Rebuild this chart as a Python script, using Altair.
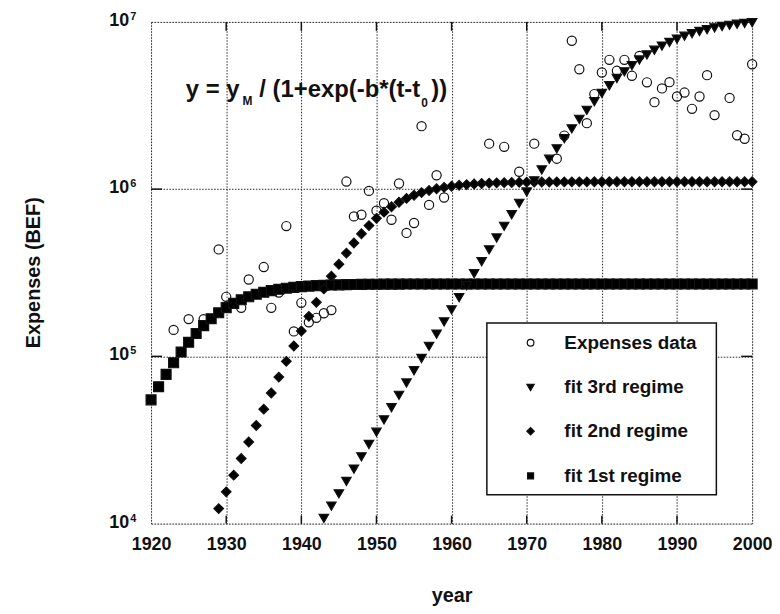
import altair as alt
import pandas as pd

W, H = 605, 505
FONT = "Liberation Sans"
INK = "#111111"

# ---------------- data ----------------
exp_year = [1923, 1925, 1927, 1929, 1930, 1932, 1933, 1935, 1936, 1937,
            1938, 1939, 1940, 1941, 1942, 1943, 1944, 1946, 1947, 1948,
            1949, 1950, 1951, 1952, 1953, 1954, 1955, 1956, 1957, 1958,
            1959, 1965, 1967, 1969, 1971, 1974, 1975, 1976, 1977, 1978,
            1979, 1980, 1981, 1982, 1983, 1984, 1985, 1986, 1987, 1988,
            1989, 1990, 1991, 1992, 1993, 1994, 1995, 1997, 1998, 1999,
            2000]
exp_value = [1.44e5, 1.67e5, 1.67e5, 4.36e5, 2.27e5, 1.95e5, 2.88e5, 3.42e5, 1.95e5, 2.41e5,
             6.01e5, 1.41e5, 2.09e5, 1.60e5, 1.70e5, 1.81e5, 1.89e5, 1.11e6, 6.87e5, 7.03e5,
             9.76e5, 7.43e5, 8.24e5, 6.56e5, 1.08e6, 5.47e5, 6.27e5, 2.38e6, 8.05e5, 1.21e6,
             8.91e5, 1.87e6, 1.79e6, 1.27e6, 1.87e6, 1.52e6, 2.09e6, 7.71e6, 5.21e6, 2.48e6,
             3.70e6, 4.98e6, 5.93e6, 5.10e6, 5.93e6, 4.76e6, 6.26e6, 4.35e6, 3.31e6, 4.00e6,
             4.36e6, 3.58e6, 3.78e6, 3.02e6, 3.58e6, 4.80e6, 2.77e6, 3.51e6, 2.10e6, 2.00e6,
             5.58e6]

fit1_year = list(range(1920, 2001))
fit1_value = [54970, 65830, 78050, 91550, 106100, 121400, 137100, 152700, 167900, 182200,
              195500, 207500, 218000, 227200, 235100, 241700, 247300, 251800, 255600, 258600,
              261100, 263100, 264700, 266000, 267000, 267800, 268500, 269000, 269400, 269700,
              270000, 270200, 270400, 270500, 270600, 270700, 270800, 270800, 270900, 270900,
              270900, 270900, 270900, 270900, 270900,
              271000, 271000, 271000, 271000, 271000, 271000, 271000, 271000, 271000, 271000,
              271000, 271000, 271000, 271000, 271000, 271000, 271000, 271000, 271000, 271000,
              271000, 271000, 271000, 271000, 271000, 271000, 271000, 271000, 271000, 271000,
              271000, 271000, 271000, 271000, 271000, 271000]

fit2_year = list(range(1929, 2001))
fit2_value = [12300, 15480, 19490, 24490, 30750, 38620, 48360, 60430, 75200, 93340,
              115400, 141900, 173500, 210300, 253100, 301600, 355600, 414300, 476300, 540500,
              605200, 668500, 728300, 784500, 835100, 880200, 919400, 953100, 981600, 1005400,
              1025000, 1041000, 1054200, 1064700, 1073300, 1080100, 1085600, 1090000, 1093500, 1096300,
              1098500, 1100300, 1101700, 1102800, 1103700, 1104300, 1104900, 1105300, 1105600, 1105900,
              1106100, 1106300,
              1106400, 1106500, 1106600, 1106600, 1106700, 1106700, 1106800, 1106800, 1106800, 1106900,
              1106900, 1106900, 1106900, 1107000, 1107000, 1107000, 1107000, 1107000, 1107000, 1107000]

fit3_year = list(range(1943, 2001))
fit3_value = [10730, 12720, 15070, 17860, 21160, 25070, 29700, 35190, 41680, 49370,
              58460, 69260, 81970, 97040, 114800, 135800, 160600, 189800, 224200, 264700,
              312300, 368200, 433500, 510000, 599000, 702300, 822200, 961000, 1120000, 1302000,
              1509000, 1742000, 2003000, 2293000, 2613000, 2960000, 3334000, 3733000, 4150000, 4585000,
              5027000, 5473000, 5916000, 6349000, 6767000, 7166000, 7540000, 7888000, 8207000, 8497000,
              8758000, 8991000, 9198000, 9380000, 9539000, 9677000, 9797000, 9901000]

series_names = ["Expenses data", "fit 3rd regime", "fit 2nd regime", "fit 1st regime"]
series_shapes = ["circle", "triangle-down", "diamond", "square"]
series_fills = ["transparent", "black", "black", "black"]
series_sizes = [85, 100, 80, 50]
legend_sizes = [45, 55, 55, 36]

x_ticks = [1920, 1930, 1940, 1950, 1960, 1970, 1980, 1990, 2000]
x_inner = [1930, 1940, 1950, 1960, 1970, 1980, 1990]
y_ticks = [1e4, 1e5, 1e6, 1e7]
y_exps = ["4", "5", "6", "7"]
y_inner = [1e5, 1e6]

# ---------------- tables ----------------
rows = []
for name, ys, vs in [("Expenses data", exp_year, exp_value),
                     ("fit 1st regime", fit1_year, fit1_value),
                     ("fit 2nd regime", fit2_year, fit2_value),
                     ("fit 3rd regime", fit3_year, fit3_value)]:
    for yr, v in zip(ys, vs):
        rows.append({"year": yr, "value": v, "series": name})
df = pd.DataFrame(rows)

xaxis = alt.Axis(values=x_ticks, format="d", grid=True, gridColor=INK, gridDash=[1.5, 1.5],
                 gridWidth=1, gridOpacity=0.9, ticks=False, tickSize=0, domain=False,
                 labelFont=FONT, labelFontSize=18, labelFontWeight="bold", labelColor=INK,
                 labelPadding=26, labelBaseline="alphabetic", labelFlush=False, labelOverlap=False,
                 title="year", titleFont=FONT, titleFontSize=20, titleFontWeight="bold",
                 titleColor=INK, titleY=78, titleBaseline="alphabetic")
yaxis = alt.Axis(values=y_ticks, grid=True, gridColor=INK, gridDash=[1.5, 1.5], gridWidth=1,
                 gridOpacity=0.9, labels=False, ticks=False, tickSize=0, domain=False,
                 title="Expenses (BEF)", titleFont=FONT, titleFontSize=20, titleFontWeight="bold",
                 titleColor=INK, titleX=-118, titleY=252, titleAngle=270, titleBaseline="middle")

X = alt.X("year:Q", scale=alt.Scale(domain=[1920, 2000], nice=False, zero=False), axis=xaxis)
Y = alt.Y("value:Q", scale=alt.Scale(type="log", domain=[1e4, 1e7], nice=False), axis=yaxis)
SHAPE = alt.Shape("series:N", scale=alt.Scale(domain=series_names, range=series_shapes), legend=None)
FILL = alt.Fill("series:N", scale=alt.Scale(domain=series_names, range=series_fills), legend=None)

points = alt.Chart(df).mark_point(filled=True, stroke=INK, strokeWidth=1.2, opacity=1).encode(
    x=X, y=Y, shape=SHAPE, fill=FILL,
    size=alt.Size("series:O", scale=alt.Scale(domain=series_names, range=series_sizes), legend=None),
)

xt = pd.DataFrame({"year": x_inner})
yt = pd.DataFrame({"value": y_inner})
bottom_ticks = alt.Chart(xt).mark_rule(color=INK, strokeWidth=1.5).encode(
    x=X, y=alt.value(H), y2=alt.value(H - 8))
top_ticks = alt.Chart(xt).mark_rule(color=INK, strokeWidth=1.5).encode(
    x=X, y=alt.value(0), y2=alt.value(9))
left_ticks = alt.Chart(yt).mark_rule(color=INK, strokeWidth=1.5).encode(
    y=Y, x=alt.value(0), x2=alt.value(11))
right_ticks = alt.Chart(yt).mark_rule(color=INK, strokeWidth=1.5).encode(
    y=Y, x=alt.value(W), x2=alt.value(W - 11))

ylab = pd.DataFrame({"value": y_ticks, "exp": y_exps})
ten = alt.Chart(ylab).mark_text(text="10", align="right", baseline="alphabetic", dy=4,
                                font=FONT, fontSize=18, fontWeight="bold", color=INK).encode(
    y=Y, x=alt.value(-22))
expo = alt.Chart(ylab).mark_text(align="left", baseline="alphabetic", dy=-2,
                                 font=FONT, fontSize=11, fontWeight="bold", color=INK).encode(
    y=Y, x=alt.value(-21), text="exp:N")

one = pd.DataFrame({"k": [0]})


def eq(txt, x, y, size):
    return alt.Chart(one).mark_text(text=txt, align="left", baseline="alphabetic", font=FONT,
                                    fontSize=size, fontWeight="bold", color=INK).encode(
        x=alt.value(x), y=alt.value(y))


equation = [eq("y = y", 35, 76, 24), eq("M", 92, 84, 12), eq("/ (1+exp(-b*(t-t", 109, 76, 24),
            eq("0", 272, 86, 12), eq("))", 282, 76, 24)]

# ---------------- legend (drawn as a boxed panel inside the plot) ----------------
LX0, LX1, LY0, LY1 = 338, 569, 303, 476
row_y = [323, 368, 412, 457]
legend_box = alt.Chart(one).mark_rect(fill="white", stroke=INK, strokeWidth=1.5).encode(
    x=alt.value(LX0), x2=alt.value(LX1), y=alt.value(LY0), y2=alt.value(LY1))
legend_layers = [legend_box]
for name, ly, ls in zip(series_names, row_y, legend_sizes):
    d = pd.DataFrame({"series": [name]})
    legend_layers.append(
        alt.Chart(d).mark_point(filled=True, stroke=INK, strokeWidth=1.2, opacity=1, size=ls).encode(
            x=alt.value(382), y=alt.value(ly), shape=SHAPE, fill=FILL))
    legend_layers.append(
        alt.Chart(d).mark_text(align="left", baseline="middle", font=FONT, fontSize=19,
                               fontWeight="bold", color=INK).encode(
            x=alt.value(416), y=alt.value(ly), text="series:N"))

chart = alt.layer(points, bottom_ticks, top_ticks, left_ticks, right_ticks, ten, expo,
                  *equation, *legend_layers).properties(
    width=W, height=H,
    autosize=alt.AutoSizeParams(type="none"),
    padding={"left": 144, "top": 12, "right": 20, "bottom": 86},
).configure_view(stroke=INK, strokeWidth=1.5).configure(background="white")

chart.save("out.html", embed_options={"renderer": "svg", "actions": False})
